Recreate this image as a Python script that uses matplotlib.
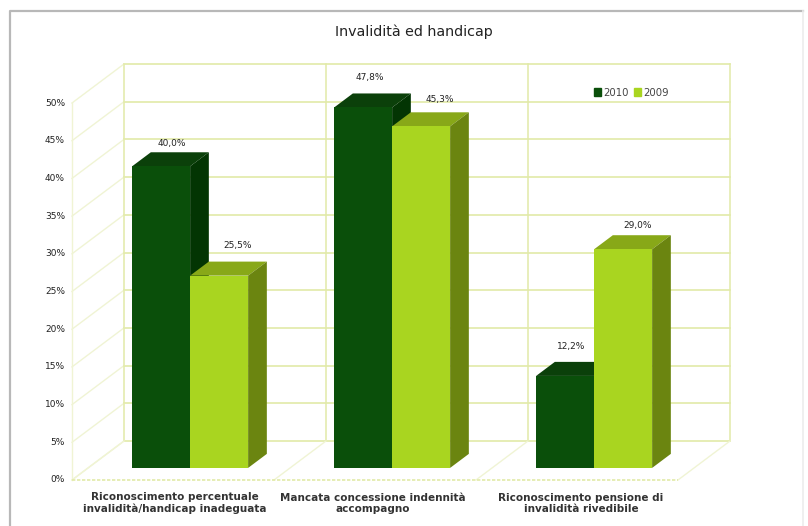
import matplotlib
matplotlib.use('Agg')
import matplotlib.pyplot as plt
from matplotlib.patches import Patch

categories = ['Riconoscimento percentuale\ninvalidità/handicap inadeguata',
              'Mancata concessione indennità\naccompagno',
              'Riconoscimento pensione di\ninvalidità rivedibile']
series_names = ['2010', '2009']
values_2010 = [40.0, 47.8, 12.2]
values_2009 = [25.5, 45.3, 29.0]
y_ticks = [0, 5, 10, 15, 20, 25, 30, 35, 40, 45, 50]

W, H = 808, 526
# pixels of the back wall origin and scales
X0, Y0 = 124, 441
PX_CAT, PX_PCT = 202.0, 7.54
DX = -52 / PX_CAT   # full depth of the floor, in data units
DY = -39 / PX_PCT
BAR_BACK, BAR_FRONT = 0.33, 0.69
BAR_W = 58 / PX_CAT
BAR_SHIFT = 1 / PX_CAT

GRID = '#e2eaa8'
GRID_PALE = '#f0f4d4'
DARK = ('#0a4f0a', '#0b400a', '#033503')
LIGHT = ('#a9d520', '#88a818', '#6b8510')
TEXT = '#222222'

# nudges of the value labels in pixels, per category and series
label_dx = [[-4, 4], [-8, 4], [-9, 0]]
label_dy = [[-5, 3], [2, -1], [2, -4]]
name_dx = [4, 0, 6]


def pr(x, y, d):
    # move a point from the back wall towards the viewer
    return x + d * DX, y + d * DY


fig = plt.figure(figsize=(W / 100, H / 100), dpi=100)
ax = fig.add_axes([0, 0, 1, 1])
ax.set_xlim(-X0 / PX_CAT, (W - X0) / PX_CAT)
ax.set_ylim(-(H - Y0) / PX_PCT, Y0 / PX_PCT)
ax.axis('off')

# outer frame of the picture, right side is much paler
ax.plot([0.012, 0.012, 0.994], [0, 0.979, 0.979], transform=ax.transAxes, color='#b8b8b8',
        lw=1.6, zorder=1)
ax.plot([0.994, 0.994], [0, 0.979], transform=ax.transAxes, color='#ececec', lw=1.2, zorder=1)

# walls and floor
for t in y_ticks:
    ax.plot([0, 3], [t, t], color=GRID, lw=1.2, zorder=2)
    ax.plot(*zip(pr(0, t, 0), pr(0, t, 1)), color=GRID_PALE, lw=1, zorder=2)
    ax.text(*pr(-0.035, t, 1), '%d%%' % t, ha='right', va='center', fontsize=6.5,
            color=TEXT, zorder=6)
for c in range(4):
    ax.plot([c, c], [0, 50], color=GRID, lw=1.1, zorder=2)
    ax.plot(*zip(pr(c, 0, 0), pr(c, 0, 1)), color=GRID_PALE, lw=1, zorder=2)
ax.plot(*zip(pr(0, 0, 1), pr(0, 50, 1)), color=GRID_PALE, lw=1, zorder=2)
ax.plot(*zip(pr(0, 0, 1), pr(3, 0, 1)), color=GRID, lw=1.2, ls=(0, (2, 1)), zorder=2)

# bars, dark series first so the light one covers its side
z = 3
for c in range(3):
    for s, vals in enumerate([values_2010, values_2009]):
        col = DARK if s == 0 else LIGHT
        v = vals[c]
        left = c + 0.5 - BAR_W + s * BAR_W + BAR_SHIFT
        right = left + BAR_W
        fx, fy = pr(left, 0, BAR_FRONT)
        ax.bar(fx, v, width=BAR_W, bottom=fy, align='edge', color=col[0], lw=0, zorder=z + 0.2)
        top = [pr(left, v, BAR_FRONT), pr(right, v, BAR_FRONT),
               pr(right, v, BAR_BACK), pr(left, v, BAR_BACK)]
        side = [pr(right, 0, BAR_FRONT), pr(right, v, BAR_FRONT),
                pr(right, v, BAR_BACK), pr(right, 0, BAR_BACK)]
        ax.fill(*zip(*top), color=col[1], lw=0, zorder=z)
        ax.fill(*zip(*side), color=col[2], lw=0, zorder=z)
        lx, ly = pr(left + BAR_W / 2, v, BAR_BACK)
        ax.annotate(('%.1f%%' % v).replace('.', ','), (lx - 0.02, ly + 1.8),
                    xytext=(label_dx[c][s], label_dy[c][s]), textcoords='offset pixels',
                    ha='center', va='center', fontsize=6.5, color=TEXT, zorder=7)
        z += 1

# category names under the floor
for c, name in enumerate(categories):
    lx, ly = pr(c + 0.5, 0, 1)
    ax.annotate(name, (lx - 0.01, ly - 3.1), xytext=(name_dx[c], 0), textcoords='offset pixels',
                ha='center', va='center', fontsize=7.5, fontweight='bold',
                color='#333333', linespacing=1.2, zorder=6)

ax.text(0.512, 0.939, 'Invalidità ed handicap', transform=ax.transAxes, ha='center', va='center',
        fontsize=10.3, color=TEXT)

handles = [Patch(color=DARK[0]), Patch(color=LIGHT[0])]
ax.legend(handles, series_names, ncol=2, loc='center', bbox_to_anchor=(0.7815, 0.824),
          frameon=True, framealpha=1, edgecolor='none', facecolor='white', fontsize=7.3,
          labelcolor='#444444', handlelength=0.7, handleheight=0.7, handletextpad=0.2,
          columnspacing=0.5, borderpad=0.3).set_zorder(5)

fig.savefig('out.png', dpi=100)
